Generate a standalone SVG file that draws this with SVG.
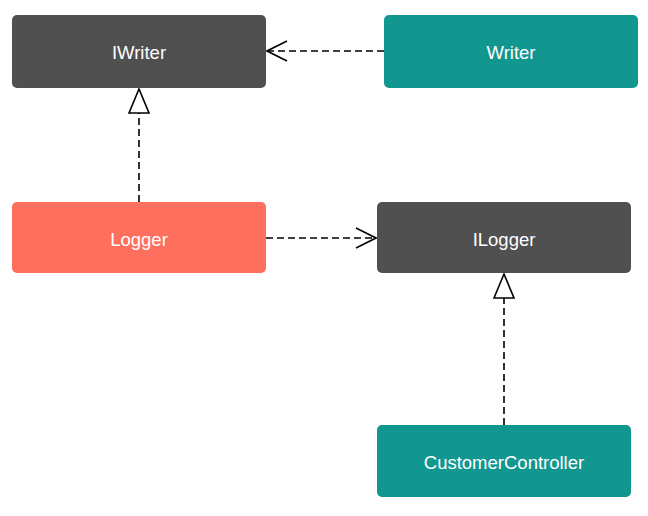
<svg xmlns="http://www.w3.org/2000/svg" width="648" height="516" viewBox="0 0 648 516">
<style>
.node text{font-family:"Liberation Sans",Arial,sans-serif;font-size:18.5px;fill:#ffffff;text-anchor:middle}
.dark rect{fill:#505050}
.teal rect{fill:#129690}
.salmon rect{fill:#ff6f5e}
.edge{fill:none;stroke:#000;stroke-width:1.6;stroke-dasharray:7,4}
</style>
<defs>
<marker id="open" viewBox="0 0 22 22" refX="21" refY="11" markerWidth="22" markerHeight="22" markerUnits="userSpaceOnUse" orient="auto">
<path d="M1,1 L21,11 L1,21" fill="none" stroke="#000" stroke-width="1.6"/>
</marker>
<marker id="tri" viewBox="0 0 26 22" refX="25" refY="11" markerWidth="26" markerHeight="22" markerUnits="userSpaceOnUse" orient="auto">
<path d="M1,1 L25,11 L1,21 Z" fill="#fff" stroke="#000" stroke-width="1.6"/>
</marker>
</defs>
<rect width="648" height="516" fill="#ffffff"/>
<g id="connectors">
<path class="edge" d="M384,51 L267,51" marker-end="url(#open)"/>
<path class="edge" d="M139,202 L139,89" marker-end="url(#tri)"/>
<path class="edge" d="M266,238 L376,238" marker-end="url(#open)"/>
<path class="edge" d="M504,425 L504,274" marker-end="url(#tri)"/>
</g>
<g id="IWriter" class="node dark"><rect x="12" y="15" width="254" height="73" rx="5"/><text x="139" y="59">IWriter</text></g>
<g id="Writer" class="node teal"><rect x="384" y="15" width="254" height="73" rx="5"/><text x="511" y="59">Writer</text></g>
<g id="Logger" class="node salmon"><rect x="12" y="202" width="254" height="71" rx="5"/><text x="139" y="245.5">Logger</text></g>
<g id="ILogger" class="node dark"><rect x="377" y="202" width="254" height="71" rx="5"/><text x="504" y="245.5">ILogger</text></g>
<g id="CustomerController" class="node teal"><rect x="377" y="425" width="254" height="72" rx="5"/><text x="504" y="468.5">CustomerController</text></g>
</svg>
